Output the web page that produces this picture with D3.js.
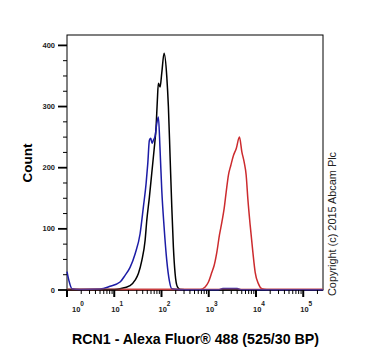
<!DOCTYPE html>
<html>
<head>
<meta charset="utf-8">
<script src="https://cdn.jsdelivr.net/npm/d3@7"></script>
<style>
  body { margin: 0; background: #fff; }
  svg { font-family: "Liberation Sans", Arial, sans-serif; }
</style>
</head>
<body>
<div id="chart"></div>
<script>
// Size of the picture
var svgWidth = 370;
var svgHeight = 358;

// Plot box inside the picture
var margin = { top: 35, right: 47, bottom: 68, left: 67 };
var width = svgWidth - margin.left - margin.right;
var height = svgHeight - margin.top - margin.bottom;

// Fluorescence channel, in decades (log10 of intensity), and counts per series
var blackDecade = [0.0, 1.0, 1.123, 1.335, 1.441, 1.511, 1.583, 1.653, 1.689, 1.744, 1.794, 1.843, 1.886, 1.913, 1.934, 1.970, 2.006, 2.055, 2.112, 2.146, 2.182, 2.218, 2.252, 2.288, 2.337, 2.394, 2.6, 5.42];
var blackCount  = [1, 1, 2, 7, 16, 27, 48, 81, 114, 152, 191, 229, 267, 311, 338, 332, 355, 387, 349, 300, 218, 136, 70, 27, 5, 1, 0.5, 0.5];

var blueDecade = [0.0, 0.042, 0.106, 0.275, 0.699, 0.911, 1.123, 1.229, 1.335, 1.441, 1.547, 1.617, 1.674, 1.710, 1.744, 1.773, 1.801, 1.828, 1.864, 1.900, 1.934, 1.970, 2.006, 2.055, 2.112, 2.167, 2.218, 2.5, 3.2, 3.3, 3.6, 3.7, 5.42];
var blueCount  = [30, 15, 2, 1, 1.5, 6, 13, 24, 37, 59, 92, 136, 174, 207, 245, 248, 240, 245, 251, 272, 283, 229, 163, 103, 48, 15, 2, 0.5, 0.5, 2.5, 2.5, 0.5, 0.5];

var redDecade = [0.0, 2.7, 2.818, 2.924, 2.994, 3.066, 3.114, 3.172, 3.227, 3.278, 3.326, 3.369, 3.417, 3.468, 3.523, 3.581, 3.650, 3.701, 3.750, 3.792, 3.828, 3.877, 3.934, 3.983, 4.053, 4.125, 4.231, 5.42];
var redCount  = [1, 1, 1, 5, 13, 29, 40, 62, 90, 111, 133, 160, 188, 204, 220, 231, 250, 226, 209, 188, 149, 106, 62, 29, 10, 2, 1, 1];

// Axis ticks
var yMajorTicks = [0, 100, 200, 300, 400];
var yMinorStep = 25;
var xDecades = [0, 1, 2, 3, 4, 5];
var xMax = Math.log10(262144);

var titleText = "RCN1 - Alexa Fluor\u00ae 488 (525/30 BP)";
var yTitle = "Count";
var copyright = "Copyright (c) 2015 Abcam Plc";

var svg = d3.select("#chart")
  .append("svg")
  .attr("width", svgWidth)
  .attr("height", svgHeight);

var chartGroup = svg.append("g")
  .attr("transform", `translate(${margin.left}, ${margin.top})`);

var xScale = d3.scaleLinear().domain([0, xMax]).range([0, width]);
var yScale = d3.scaleLinear().domain([0, 417]).range([height, 0]);

// Frame
chartGroup.append("rect")
  .attr("x", 0).attr("y", 0)
  .attr("width", width).attr("height", height)
  .attr("fill", "none")
  .attr("stroke", "#000")
  .attr("stroke-width", 1);

// Curves
function series(xs, ys) {
  return xs.map((d, i) => ({ x: d, y: ys[i] }));
}
var line = d3.line()
  .x(d => xScale(d.x))
  .y(d => yScale(d.y))
  .curve(d3.curveMonotoneX);

var curves = [
  { data: series(redDecade, redCount), color: "#cc2b2e" },
  { data: series(blackDecade, blackCount), color: "#000000" },
  { data: series(blueDecade, blueCount), color: "#1c1ca6" }
];

// Bottom axis line (under curves)
chartGroup.append("line")
  .attr("x1", 0).attr("x2", width)
  .attr("y1", height).attr("y2", height)
  .attr("stroke", "#000").attr("stroke-width", 1.5);

curves.forEach(function (c) {
  chartGroup.append("path")
    .datum(c.data)
    .attr("d", line)
    .attr("fill", "none")
    .attr("stroke", c.color)
    .attr("stroke-width", 1.5)
    .attr("stroke-linejoin", "round");
});

// Pinkish band along the red baseline
chartGroup.append("line")
  .attr("x1", 0).attr("x2", width)
  .attr("y1", height - 1).attr("y2", height - 1)
  .attr("stroke", "#c86060").attr("stroke-opacity", 0.5).attr("stroke-width", 1.5);

// Y axis ticks
var yMinor = d3.range(0, 401, yMinorStep).filter(v => v % 100 !== 0);
chartGroup.selectAll(".ymin").data(yMinor).enter()
  .append("line")
  .attr("x1", -4).attr("x2", 0)
  .attr("y1", d => yScale(d)).attr("y2", d => yScale(d))
  .attr("stroke", "#000").attr("stroke-width", 1);

chartGroup.selectAll(".ymaj").data(yMajorTicks).enter()
  .append("line")
  .attr("x1", -9).attr("x2", 0)
  .attr("y1", d => yScale(d)).attr("y2", d => yScale(d))
  .attr("stroke", "#000").attr("stroke-width", 1.8);

chartGroup.selectAll(".ylab").data(yMajorTicks).enter()
  .append("text")
  .attr("x", -12)
  .attr("y", d => yScale(d))
  .attr("dy", "0.35em")
  .attr("text-anchor", "end")
  .style("font-size", "7.5px")
  .style("font-weight", "bold")
  .style("fill", "#222")
  .text(d => d);

// X axis ticks (log decades)
var xMinor = [];
xDecades.forEach(function (e) {
  for (var m = 2; m <= 9; m++) {
    var v = e + Math.log10(m);
    if (v <= xMax) xMinor.push(v);
  }
});

chartGroup.selectAll(".xmin").data(xMinor).enter()
  .append("line")
  .attr("x1", d => xScale(d)).attr("x2", d => xScale(d))
  .attr("y1", height).attr("y2", height + 4)
  .attr("stroke", "#000").attr("stroke-width", 1);

chartGroup.selectAll(".xmaj").data(xDecades).enter()
  .append("line")
  .attr("x1", d => xScale(d)).attr("x2", d => xScale(d))
  .attr("y1", height).attr("y2", height + 7)
  .attr("stroke", "#000").attr("stroke-width", 2);

var xLabels = chartGroup.selectAll(".xlab").data(xDecades).enter()
  .append("text")
  .attr("x", d => Math.max(xScale(d) - 3, 5))
  .attr("y", height + 22)
  .attr("text-anchor", "start")
  .style("font-size", "7.5px")
  .style("font-weight", "bold")
  .style("fill", "#222");
xLabels.append("tspan").text("10");
xLabels.append("tspan")
  .attr("dy", "-6")
  .style("font-size", "6.5px")
  .text(d => d);

// Axis titles
svg.append("text")
  .attr("x", 72)
  .attr("y", 344)
  .attr("textLength", 247)
  .attr("lengthAdjust", "spacingAndGlyphs")
  .style("font-size", "14.5px")
  .style("font-weight", "bold")
  .text(titleText);

svg.append("text")
  .attr("transform", "translate(32, 163) rotate(-90)")
  .attr("text-anchor", "middle")
  .style("font-size", "13.5px")
  .style("font-weight", "bold")
  .text(yTitle);

svg.append("text")
  .attr("transform", "translate(336, 296) rotate(-90)")
  .attr("textLength", 144)
  .attr("lengthAdjust", "spacingAndGlyphs")
  .style("font-size", "10px")
  .style("fill", "#222")
  .text(copyright);
</script>
</body>
</html>
